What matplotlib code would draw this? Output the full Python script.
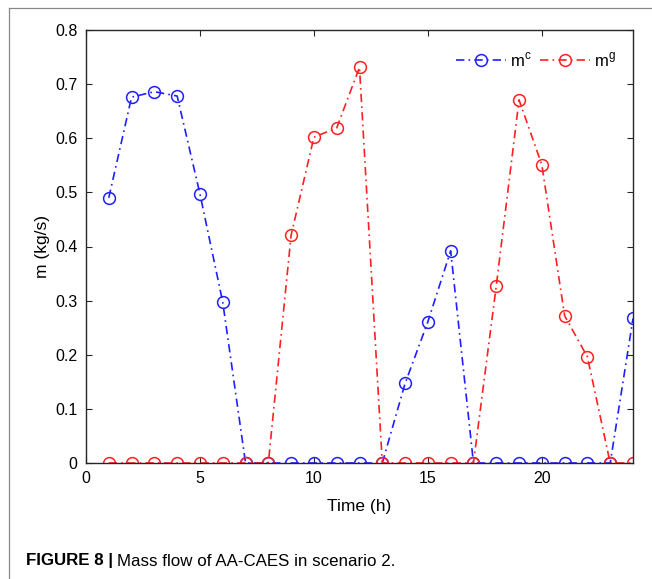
import numpy as np
import matplotlib
matplotlib.use("Agg")
import matplotlib.pyplot as plt
from matplotlib.lines import Line2D

plt.rcParams['font.family'] = ['Liberation Sans', 'DejaVu Sans']

hours = list(range(1, 25))
m_c = [0.49, 0.676, 0.686, 0.678, 0.497, 0.297, 0, 0, 0, 0, 0, 0,
       0, 0.147, 0.261, 0.392, 0, 0, 0, 0, 0, 0, 0, 0.267]
m_g = [0, 0, 0, 0, 0, 0, 0, 0, 0.421, 0.602, 0.619, 0.731,
       0, 0, 0, 0, 0, 0.327, 0.671, 0.551, 0.272, 0.196, 0, 0]

fig = plt.figure(figsize=(6.52, 5.79), dpi=100)
W, H = 652, 579
ax = fig.add_axes([86 / W, 1 - 463 / H, (633 - 86) / W, (463 - 30) / H])

dashdot = (0, (5, 2.5, 1, 2.5))
ax.plot(hours, m_c, color='#1f1fff', linestyle=dashdot, linewidth=1.2,
        marker='o', markersize=8.5, markerfacecolor='none', markeredgewidth=1.1,
        label='m$^{\\mathregular{c}}$')
ax.plot(hours, m_g, color='#ff2020', linestyle=dashdot, linewidth=1.2,
        marker='o', markersize=8.5, markerfacecolor='none', markeredgewidth=1.1,
        label='m$^{\\mathregular{g}}$')

ax.set_xlim(0, 24)
ax.set_ylim(0, 0.8)
ax.set_xticks([0, 5, 10, 15, 20])
ax.set_yticks(np.arange(0, 0.81, 0.1))
ax.set_yticklabels(['0', '0.1', '0.2', '0.3', '0.4', '0.5', '0.6', '0.7', '0.8'])
ax.tick_params(direction='in', top=True, right=True, labelsize=11.5,
               length=4, width=0.8, colors='#262626', labelcolor='black', pad=6)
for s in ax.spines.values():
    s.set_linewidth(1.0)
    s.set_color('#262626')
ax.set_xlabel('Time (h)', fontsize=12.5, labelpad=9)
ax.set_ylabel('m (kg/s)', fontsize=12.5, labelpad=4)

leg = ax.legend(loc='upper right', ncol=2, frameon=False, fontsize=12,
                handlelength=3.0, handletextpad=0.25, columnspacing=0.5,
                bbox_to_anchor=(0.99, 0.98), borderaxespad=0.3)

# outer frame lines of the figure panel
fig.add_artist(Line2D([9 / W, 9 / W], [0, 1 - 8 / H], color='#888888', linewidth=0.9))
fig.add_artist(Line2D([9 / W, 1], [1 - 8 / H, 1 - 8 / H], color='#888888', linewidth=0.9))

# caption
t1 = fig.text(26 / W, 1 - 561 / H, 'FIGURE 8 |', fontsize=12.2, fontweight='bold',
              va='center', ha='left')
fig.canvas.draw()
bb = t1.get_window_extent(renderer=fig.canvas.get_renderer())
fig.text(bb.x1 / W + 4 / W, 1 - 561 / H, 'Mass flow of AA-CAES in scenario 2.',
         fontsize=12.2, va='center', ha='left')

fig.savefig('out.png', dpi=100)
